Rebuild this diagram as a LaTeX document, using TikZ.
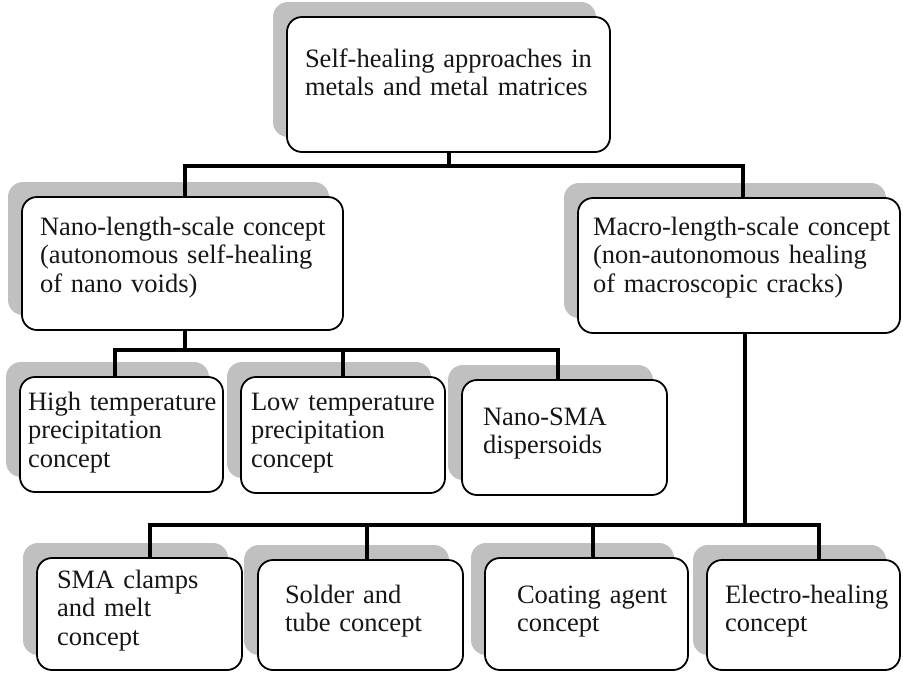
\documentclass[tikz,border=0pt]{standalone}
\usepackage{fontspec}
\setmainfont[WordSpace=0.65]{Liberation Serif}
\usetikzlibrary{shadows}
\definecolor{shadowgray}{RGB}{192,192,192}
\definecolor{inkblack}{RGB}{22,22,22}
\begin{document}
\begin{tikzpicture}[x=1pt,y=-1pt,
  box/.style={draw=black, line width=1.8pt, rounded corners=15pt, fill=white,
    general shadow={fill=shadowgray, shadow xshift=-14pt, shadow yshift=15pt},
    anchor=north west, align=left, inner ysep=0pt, outer sep=0pt,
    font=\fontsize{26.5}{28.5}\selectfont, text=inkblack},
  conn/.style={line width=4pt, draw=black},
]
\useasboundingbox (0,0) rectangle (903,673);

% root
\node[box, minimum width=323pt, minimum height=135pt, inner xsep=18pt,
      text width=287pt, text height=50pt, text depth=85pt] (root) at (287,17)
  {\mbox{Self-healing approaches in}\\\mbox{metals and metal matrices}};

% length-scale concepts
\node[box, minimum width=321pt, minimum height=133pt, inner xsep=18pt,
      text width=285pt, text height=38pt, text depth=95pt] (nano) at (22,197)
  {\mbox{Nano-length-scale concept}\\\mbox{(autonomous self-healing}\\\mbox{of nano voids)}};
\node[box, minimum width=322pt, minimum height=135pt, inner xsep=15pt,
      text width=292pt, text height=37pt, text depth=98pt] (macro) at (578,198)
  {\mbox{Macro-length-scale concept}\\\mbox{(non-autonomous healing}\\\mbox{of macroscopic cracks)}};

% nano-scale branches
\node[box, minimum width=203pt, minimum height=115pt, inner xsep=8pt,
      text width=187pt, text height=33pt, text depth=82pt] (hi) at (20,377)
  {\mbox{High temperature}\\\mbox{precipitation}\\\mbox{concept}};
\node[box, minimum width=204pt, minimum height=116pt, inner xsep=10pt,
      text width=184pt, text height=33pt, text depth=83pt] (lo) at (241,377)
  {\mbox{Low temperature}\\\mbox{precipitation}\\\mbox{concept}};
\node[box, minimum width=205pt, minimum height=115pt, inner xsep=21pt,
      text width=163pt, text height=45pt, text depth=70pt] (nsma) at (462,380)
  {\mbox{Nano-SMA}\\\mbox{dispersoids}};

% macro-scale branches
\node[box, minimum width=205pt, minimum height=112pt, inner xsep=20pt,
      text width=165pt, text height=30pt, text depth=82pt] (sma) at (37,558)
  {\mbox{SMA clamps}\\\mbox{and melt}\\\mbox{concept}};
\node[box, minimum width=205pt, minimum height=110pt, inner xsep=27pt,
      text width=151pt, text height=43pt, text depth=67pt] (solder) at (258,560)
  {\mbox{Solder and}\\\mbox{tube concept}};
\node[box, minimum width=203pt, minimum height=112pt, inner xsep=32pt,
      text width=139pt, text height=45pt, text depth=67pt] (coat) at (485,558)
  {\mbox{Coating agent}\\\mbox{concept}};
\node[box, minimum width=193pt, minimum height=110pt, inner xsep=18pt,
      text width=157pt, text height=43pt, text depth=67pt] (elec) at (707,560)
  {\mbox{Electro-healing}\\\mbox{concept}};

% junctions of the tree
\coordinate (j1) at (449,166);
\coordinate (j2) at (185,350);
\coordinate (j3) at (745,525);

% connectors
\draw[conn] ([xshift=0.5pt]root.south) -- (j1);
\draw[conn] ([xshift=2.5pt]nano.north) |- (j1) -| ([xshift=4pt]macro.north);

\draw[conn] ([xshift=2.5pt]nano.south) -- (j2);
\draw[conn] ([xshift=-6.5pt]hi.north) |- (j2) -| ([xshift=-6.5pt]nsma.north);
\draw[conn] (lo.north) -- (lo.north |- j2);

\draw[conn] ([xshift=6pt]macro.south) -- (j3);
\draw[conn] ([xshift=10.5pt]sma.north) |- (j3) -| ([xshift=15.5pt]elec.north);
\draw[conn] ([xshift=6.5pt]solder.north) -- ([xshift=6.5pt]solder.north |- j3);
\draw[conn] ([xshift=6.5pt]coat.north) -- ([xshift=6.5pt]coat.north |- j3);
\end{tikzpicture}
\end{document}
